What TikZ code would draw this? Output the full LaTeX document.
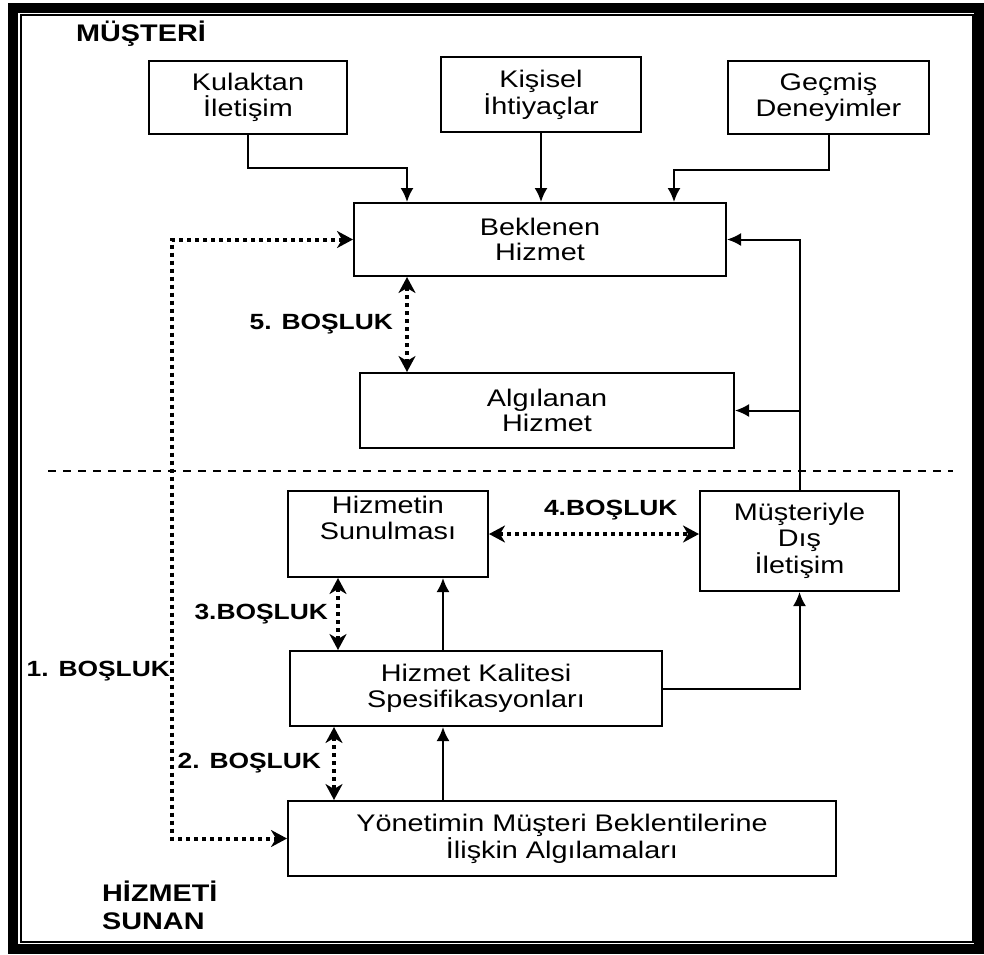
\documentclass[tikz,border=0pt]{standalone}
\usepackage{fontspec}
\setmainfont{Liberation Sans}[FakeStretch=1.2]
\usetikzlibrary{arrows.meta,positioning,calc}

\begin{document}
\begin{tikzpicture}[
  x=1pt, y=-1pt,
  bx/.style={draw, line width=2pt, align=center, inner sep=0pt,
             font=\fontsize{24}{25.5}\selectfont},
  arr/.style={line width=2pt, -{Latex[length=14pt,width=13pt]}},
  gap/.style={line width=4pt, dash pattern=on 4pt off 4pt,
              {Stealth[length=16pt,width=17pt,inset=5pt]}-{Stealth[length=16pt,width=17pt,inset=5pt]}},
  lbl/.style={font=\fontsize{22}{26}\selectfont\bfseries, inner sep=0pt},
  hdr/.style={font=\fontsize{24}{28}\selectfont\bfseries, inner sep=0pt, align=left},
]
  \useasboundingbox (0,0) rectangle (984,954);
  % frame
  \draw[line width=10pt] (13,8) rectangle (979,949);
  \draw[line width=1.5pt] (21,15) rectangle (973,942);

  % customer side
  \node[hdr, anchor=west] (musteri) at (76,34) {MÜŞTERİ};
  \node[bx, minimum width=198pt, minimum height=73pt] (kulak) at (248,97.5) {Kulaktan\\İletişim};
  \node[bx, minimum width=200pt, minimum height=75pt] (kisisel) at (541,94.5) {Kişisel\\İhtiyaçlar};
  \node[bx, minimum width=201pt, minimum height=73pt] (gecmis) at (828.5,97.5) {Geçmiş\\Deneyimler};
  \node[bx, minimum width=372pt, minimum height=73pt] (beklenen) at (540,239.5) {Beklenen\\Hizmet};
  \node[bx, minimum width=374pt, minimum height=75pt] (algilanan) at (547,410.5) {Algılanan\\Hizmet};

  % line between the two sides
  \draw[line width=1.3pt, dash pattern=on 8pt off 7pt] (48,471) -- (953,471);

  % provider side
  \node[bx, minimum width=200pt, minimum height=86pt] (sunum) at (388,534) {Hizmetin\\Sunulması\\[7pt]};
  \node[bx, minimum width=199pt, minimum height=100pt] (dis) at (799.5,541) {Müşteriyle\\Dış\\İletişim};
  \node[bx, minimum width=372pt, minimum height=75pt] (spec) at (476,688.5) {Hizmet Kalitesi\\Spesifikasyonları};
  \node[bx, minimum width=548pt, minimum height=75pt] (yonetim) at (562,838.5) {Yönetimin Müşteri Beklentilerine\\İlişkin Algılamaları};
  \node[hdr, anchor=north west] (sunan) at (102,881) {HİZMETİ\\SUNAN};

  % turn points
  \coordinate (kb) at (407,168);
  \coordinate (gb) at (674,170);
  \coordinate (ss) at (443,600);
  \coordinate (g1) at (172,500);
  \coordinate (g3) at (338,600);
  \coordinate (g2) at (334,760);

  % solid connectors
  \draw[arr] (kulak.south) |- (kb) -- (kb |- beklenen.north);
  \draw[arr] (kisisel.south) -- (kisisel.south |- beklenen.north);
  \draw[arr] (gecmis.south) |- (gb) -- (gb |- beklenen.north);
  \draw[arr] (dis.north) -- (dis.north |- beklenen.east) -- (beklenen.east);
  \draw[arr] (dis.north |- algilanan.east) -- (algilanan.east);
  \draw[arr] (spec.east) -| (dis.south);
  \draw[arr] (ss |- spec.north) -- (ss |- sunum.south);
  \draw[arr] (ss |- yonetim.north) -- (ss |- spec.south);

  % gaps
  \draw[gap] (beklenen.west) -- (beklenen.west -| g1)
    -- node[lbl, left, pos=0.72] {1. BOŞLUK} (yonetim.west -| g1) -- (yonetim.west);
  \draw[gap] (beklenen.south -| kb) -- node[lbl, left=12pt] {5. BOŞLUK} (algilanan.north -| kb);
  \draw[gap] (sunum.east) -- node[lbl, above=12pt, pos=0.58] {4.BOŞLUK} (dis.west |- sunum.east);
  \draw[gap] (sunum.south -| g3) -- node[lbl, left=8pt] {3.BOŞLUK} (spec.north -| g3);
  \draw[gap] (spec.south -| g2) -- node[lbl, left=11pt] {2. BOŞLUK} (yonetim.north -| g2);
\end{tikzpicture}
\end{document}
